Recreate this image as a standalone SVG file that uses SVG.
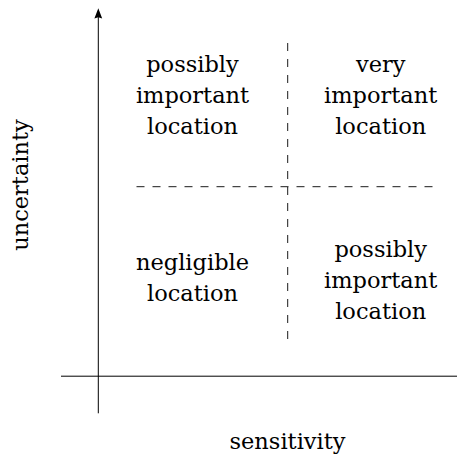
<svg xmlns="http://www.w3.org/2000/svg" width="457" height="463" viewBox="0 0 457 463">
  <style>
    .lbl { font-family: "DejaVu Serif", serif; font-size: 22.5px; fill: #000; text-anchor: middle; }
    .axis { stroke: #000; stroke-width: 1; fill: none; }
    .div { stroke: #000; stroke-width: 0.9; stroke-dasharray: 8 8; fill: none; }
  </style>
  <rect width="457" height="463" fill="#fff"/>

  <!-- axes and quadrant dividers -->
  <g id="connectors">
    <line class="axis" x1="61" y1="376.2" x2="457" y2="376.2"/>
    <line class="axis" x1="98.3" y1="413.3" x2="98.3" y2="16"/>
    <polygon points="98.3,8.3 102.2,18.6 98.3,17.2 94.4,18.6" fill="#000"/>
    <line class="div" x1="136.5" y1="186.7" x2="432.5" y2="186.7"/>
    <line class="div" x1="287.7" y1="43" x2="287.7" y2="339"/>
  </g>

  <!-- quadrant labels -->
  <g id="q-top-left">
    <text class="lbl" x="192.5" y="71.5">possibly</text>
    <text class="lbl" x="192.5" y="102.5">important</text>
    <text class="lbl" x="192.5" y="133.5">location</text>
  </g>
  <g id="q-top-right">
    <text class="lbl" x="380.7" y="71.5">very</text>
    <text class="lbl" x="380.7" y="102.5">important</text>
    <text class="lbl" x="380.7" y="133.5">location</text>
  </g>
  <g id="q-bottom-left">
    <text class="lbl" x="192.5" y="270">negligible</text>
    <text class="lbl" x="192.5" y="301">location</text>
  </g>
  <g id="q-bottom-right">
    <text class="lbl" x="380.7" y="257">possibly</text>
    <text class="lbl" x="380.7" y="288">important</text>
    <text class="lbl" x="380.7" y="319">location</text>
  </g>

  <!-- axis titles -->
  <g id="x-title">
    <text class="lbl" x="287.5" y="449.3">sensitivity</text>
  </g>
  <g id="y-title">
    <text class="lbl" transform="translate(28.3,185) rotate(-90)" x="0" y="0">uncertainty</text>
  </g>
</svg>
